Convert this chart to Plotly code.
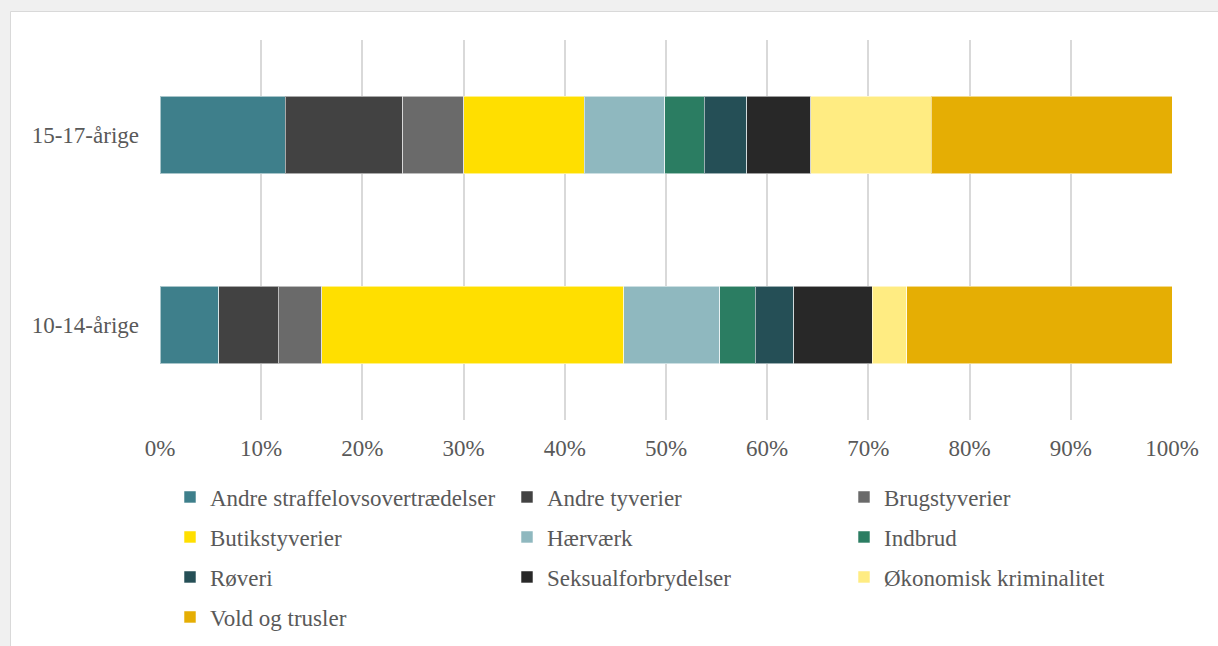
import plotly.graph_objects as go

categories = ["10-14-årige", "15-17-årige"]

series_names = [
    "Andre straffelovsovertrædelser", "Andre tyverier", "Brugstyverier",
    "Butikstyverier", "Hærværk", "Indbrud",
    "Røveri", "Seksualforbrydelser", "Økonomisk kriminalitet",
    "Vold og trusler",
]

# shares (%) for [10-14-årige, 15-17-årige]
andre_straffelov = [5.8, 12.4]
andre_tyverier = [5.9, 11.6]
brugstyverier = [4.3, 6.0]
butikstyverier = [29.8, 11.9]
haervaerk = [9.5, 8.0]
indbrud = [3.5, 3.9]
roeveri = [3.8, 4.2]
seksualforbrydelser = [7.8, 6.3]
oekonomisk = [3.4, 11.9]
vold_og_trusler = [26.2, 23.8]

tick_vals = [0, 10, 20, 30, 40, 50, 60, 70, 80, 90, 100]
tick_text = ["0%", "10%", "20%", "30%", "40%", "50%", "60%", "70%", "80%", "90%", "100%"]

values = [andre_straffelov, andre_tyverier, brugstyverier, butikstyverier, haervaerk,
          indbrud, roeveri, seksualforbrydelser, oekonomisk, vold_og_trusler]
colors = ["#3E7F8B", "#424242", "#6A6A6A", "#FFDF00", "#8FB8BF",
          "#2B7D62", "#254F56", "#282828", "#FFEC82", "#E5AE04"]

FONT = "Liberation Serif, Times New Roman, serif"
TXT = "#595959"
FS = 23

W, H = 1218, 646
L, R, T, B = 160, 46, 40, 226
pw, ph = W - L - R, H - T - B

# legend grid (pixel positions of each entry: 3 columns, row-major)
col_x = [170, 507, 844]
row_y = [497, 537, 577, 617]

fig = go.Figure()
layout_legends = {}
for i, (name, vals, col) in enumerate(zip(series_names, values, colors)):
    key = "legend" if i == 0 else f"legend{i+1}"
    fig.add_trace(go.Bar(
        y=categories, x=vals, name=name, orientation="h",
        marker=dict(color=col, line=dict(color="rgba(255,255,255,0.55)", width=1)),
        legend=key, showlegend=True,
    ))
    r, c = divmod(i, 3)
    layout_legends[key] = dict(
        orientation="h", font=dict(family=FONT, size=FS, color=TXT),
        xanchor="left", yanchor="middle", bgcolor="rgba(0,0,0,0)",
        xref="container", yref="container",
        x=col_x[c] / W, y=1 - row_y[r] / H,
    )

def px_to_paper_x(px):
    return (px - L) / pw

def py_to_paper_y(py):
    return (H - B - py) / ph

fig.update_layout(
    template="none",
    width=W, height=H,
    margin=dict(l=L, r=R, t=T, b=B, autoexpand=False),
    showlegend=True,
    barmode="stack",
    bargap=0.59,
    paper_bgcolor="#F0F0F0",
    plot_bgcolor="#FFFFFF",
    font=dict(family=FONT, size=FS, color=TXT),
    xaxis=dict(range=[0, 100], tickvals=tick_vals, ticktext=tick_text,
               showgrid=True, gridcolor="#D9D9D9", gridwidth=1.5,
               zeroline=False, showline=False, ticks="", ticklabelstandoff=12,
               automargin=False,
               tickfont=dict(family=FONT, size=FS, color=TXT), fixedrange=True),
    yaxis=dict(showgrid=False, zeroline=False, showline=False, ticks="",
               ticklabelstandoff=20, categoryorder="array", categoryarray=categories,
               automargin=False,
               tickfont=dict(family=FONT, size=FS, color=TXT), fixedrange=True),
    shapes=[dict(type="rect", xref="paper", yref="paper", layer="below",
                 x0=px_to_paper_x(10.5), x1=px_to_paper_x(1240),
                 y0=py_to_paper_y(680), y1=py_to_paper_y(11.5),
                 fillcolor="#FFFFFF", line=dict(color="#D9D9D9", width=1))],
    **layout_legends,
)

fig.write_html(
    "out.html",
    config={"displayModeBar": False},
    post_script="document.body.style.margin='0px';document.body.style.background='#F0F0F0';document.body.style.overflow='hidden';",
)
